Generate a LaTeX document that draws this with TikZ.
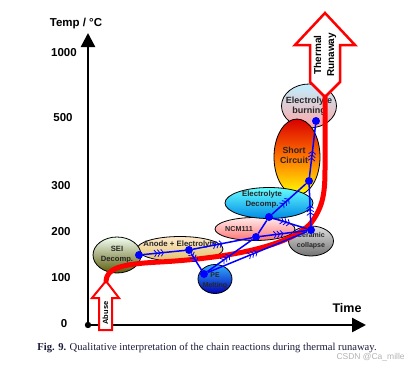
\documentclass[tikz,border=0pt]{standalone}
\usepackage{fontspec}
\setmainfont{Liberation Sans}
\newfontfamily\capfont{Liberation Serif}
\usetikzlibrary{arrows.meta,decorations.markings,shapes.geometric}
\definecolor{capcol}{HTML}{1A1A3A}
\begin{document}
\begin{tikzpicture}[x=1pt,y=-1pt,
  blob/.style={ellipse,draw=black,line width=0.8pt,inner sep=0pt},
  lbl/.style={font=\fontsize{#1}{10}\selectfont\bfseries,align=center,text=black!85},
  lbl/.default=7.5,
  tick/.style={font=\fontsize{11.5}{12}\selectfont\bfseries},
  dot/.style={circle,fill=blue,inner sep=0pt,minimum size=8pt},
  flow/.style={draw=blue,line width=1.5pt,postaction={decorate},
    decoration={markings,mark=at position 0.5 with {\arrow[blue,line width=0.8pt]{Straight Barb[length=2.5pt,width=7pt] Straight Barb[length=2.5pt,width=7pt] Straight Barb[length=2.5pt,width=7pt]}}}},
  axis/.style={line width=2.5pt,-{Triangle[length=14pt,width=14pt]}},
  bigarrow/.style={draw=red,line width=2.5pt,fill=white,line join=miter}]
\useasboundingbox (0,0) rectangle (408,368);

% axes
\coordinate (o) at (88,325);
\coordinate (ytop) at (88,33);
\coordinate (xend) at (366,325);
\draw[axis] (o) -- (ytop);
\draw[axis] (o) -- (xend);
\fill (o) circle (3.2);
\node[font=\fontsize{11.5}{12}\selectfont\bfseries] (tlab) at (76,24) {Temp / °C};
\node[font=\fontsize{12.5}{13}\selectfont\bfseries] (time) at (347,308) {Time};
\node[tick] (t1000) at (64,53) {1000};
\node[tick] (t500) at (63,118) {500};
\node[tick] (t300) at (61,186) {300};
\node[tick] (t200) at (61,232) {200};
\node[tick] (t100) at (61,278) {100};
\node[tick] (t0) at (64,324) {0};

% ellipses
\node[blob,top color=blue!25!cyan!25,bottom color=red!35!white,minimum width=55pt,minimum height=44pt,
  label={[lbl=9]center:Electrolyte\\burning}] (burn) at (309,106) {};
\node[blob,top color=red!85!black,bottom color=yellow,middle color=orange!90!red,minimum width=46pt,minimum height=76pt,
  label={[lbl=8.8,xshift=-3pt,yshift=2pt]center:Short\\Circuit}] (short) at (297,157) {};
\node[blob,top color=red!8,bottom color=red!55,minimum width=80pt,minimum height=23pt,
  label={[lbl=7.2,xshift=-16pt]center:NCM111}] (ncm) at (255,229) {};
\node[blob,top color=cyan!60,bottom color=blue!40!cyan!90!black,minimum width=88pt,minimum height=31pt,
  label={[lbl=7.8,xshift=-7pt,yshift=4pt]center:Electrolyte\\Decomp.}] (decomp) at (269,203) {};
\node[blob,top color=black!12,bottom color=black!55,minimum width=45pt,minimum height=30pt,
  label={[lbl=7]center:Ceramic\\collapse}] (cer) at (311,241) {};
\node[blob,top color=yellow!15!orange!20,bottom color=brown!70!yellow!70,minimum width=86pt,minimum height=25pt,
  label={[lbl=7.8,yshift=5pt]center:Anode + Electrolyte}] (anode) at (180,249) {};
\node[blob,top color=green!5!white,bottom color=olive!40!black!80,minimum width=48pt,minimum height=36pt,
  label={[lbl=7.6]center:SEI\\Decomp.}] (sei) at (117,255) {};
\node[blob,top color=blue!40!cyan!80,bottom color=blue!70!black,minimum width=34pt,minimum height=29pt,
  label={[lbl=7,yshift=-2pt]center:PE\\Melting}] (pe) at (215,279) {};

% abuse arrow
\coordinate (abt) at (106,281);
\draw[bigarrow,line width=2pt] (abt) -- (119,298) -- (112,298) -- (112,330) -- (99,330) -- (99,298) -- (92,298) -- cycle;
\node[rotate=90,font=\fontsize{7.5}{8}\selectfont\bfseries] (abuse) at (105.5,313) {Abuse};

% thermal runaway arrow
\coordinate (trb) at (325,97);
\draw[bigarrow] (325,13) -- (355,45) -- (340,45) -- (340,82) -- (trb) -- (310,82) -- (310,45) -- (295,45) -- cycle;
\node[rotate=90,align=center,font=\fontsize{10}{13}\selectfont\bfseries] (trtext) at (325,55) {Thermal\\Runaway};

% red path
\draw[red,line width=5pt,line cap=round] (abt) .. controls (107,269) and (118,264) .. (160,262)
  .. controls (230,258) and (290,246) .. (311,223)
  .. controls (322,208) and (325,196) .. (325,170) -- (trb);

% blue network
\node[dot] (a) at (139,255) {};
\node[dot] (b) at (189,250) {};
\node[dot] (c) at (204,274) {};
\node[dot] (d) at (256,237) {};
\node[dot] (e) at (269,217) {};
\node[dot] (f) at (311,230) {};
\node[dot] (g) at (309,181) {};
\node[dot] (h) at (316,121) {};
\draw[flow] (a) -- (b);
\draw[flow] (b) -- (c);
\draw[flow] (b) -- (d);
\draw[flow] (c) -- (d);
\draw[flow] (c) -- (f);
\draw[draw=blue,line width=1.5pt] (d) -- (e);
\draw[flow] (d) -- (f);
\draw[flow] (e) -- (f);
\draw[flow] (e) -- (g);
\draw[flow] (f) -- (g);
\draw[flow] (g) -- (h);

% caption
\node[font=\capfont\fontsize{10.6}{12}\selectfont,text=capcol] (cap) at (207,348) {\textbf{Fig. 9.} Qualitative interpretation of the chain reactions during thermal runaway.};
\node[anchor=west,font=\fontsize{8.5}{9}\selectfont,text=black!30] (wm) at (333,357) {CSDN @Ca\_mille};
\end{tikzpicture}
\end{document}
